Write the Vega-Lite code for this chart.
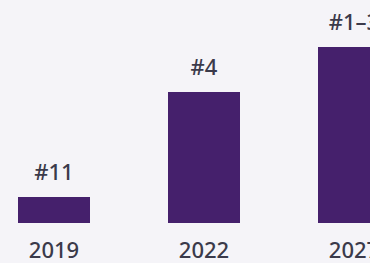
{
  "$schema": "https://vega.github.io/schema/vega-lite/v6.json",
  "width": 408,
  "height": 223,
  "padding": {"left": 0, "top": 0, "right": 0, "bottom": 40},
  "autosize": {"type": "none"},
  "background": "#f5f4f8",
  "data": {"values": [
    {"year": "2019", "value": 26, "label": "#11"},
    {"year": "2022", "value": 131, "label": "#4"},
    {"year": "2027", "value": 176, "label": "#1–3"}
  ]},
  "encoding": {
    "x": {"field": "year", "type": "ordinal", "sort": null,
      "scale": {"paddingInner": 0.52, "paddingOuter": 0.12},
      "axis": {"title": null, "domain": false, "ticks": false, "labelAngle": 0,
        "labelFont": "Noto Sans", "labelFontSize": 22, "labelFontWeight": 500, "labelColor": "#3b3a4a", "labelPadding": 17}},
    "y": {"field": "value", "type": "quantitative", "scale": {"domain": [0, 223]}, "axis": null}
  },
  "layer": [
    {"mark": {"type": "bar", "color": "#45206c"}},
    {"mark": {"type": "text", "baseline": "bottom", "dy": -12, "font": "Noto Sans", "fontSize": 22, "fontWeight": 500, "color": "#3b3a4a"},
     "encoding": {"text": {"field": "label"}}}
  ],
  "config": {"view": {"stroke": null}}
}
